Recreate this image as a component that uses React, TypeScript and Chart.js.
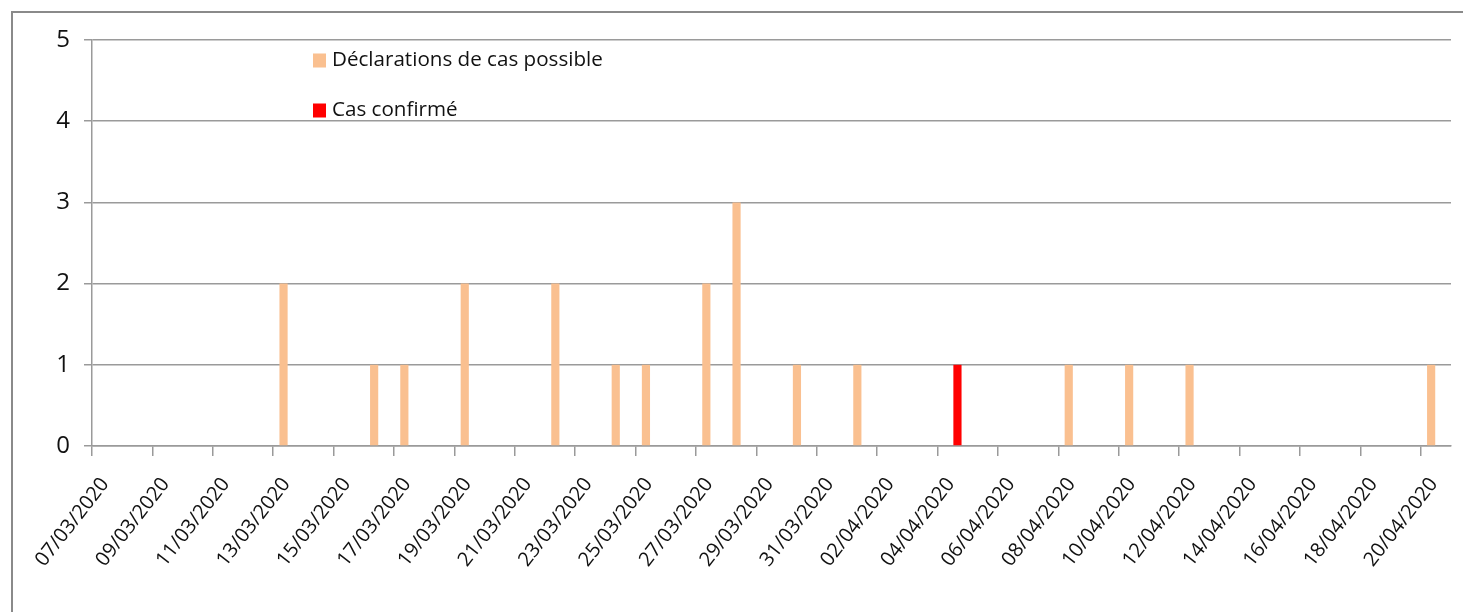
import React, { useEffect, useRef } from 'react';
import { Chart, registerables } from 'chart.js';

Chart.register(...registerables);

const dates: string[] = [
  '07/03/2020', '08/03/2020', '09/03/2020', '10/03/2020', '11/03/2020', '12/03/2020', '13/03/2020',
  '14/03/2020', '15/03/2020', '16/03/2020', '17/03/2020', '18/03/2020', '19/03/2020', '20/03/2020',
  '21/03/2020', '22/03/2020', '23/03/2020', '24/03/2020', '25/03/2020', '26/03/2020', '27/03/2020',
  '28/03/2020', '29/03/2020', '30/03/2020', '31/03/2020', '01/04/2020', '02/04/2020', '03/04/2020',
  '04/04/2020', '05/04/2020', '06/04/2020', '07/04/2020', '08/04/2020', '09/04/2020', '10/04/2020',
  '11/04/2020', '12/04/2020', '13/04/2020', '14/04/2020', '15/04/2020', '16/04/2020', '17/04/2020',
  '18/04/2020', '19/04/2020', '20/04/2020',
];

const casPossible: number[] = [
  0, 0, 0, 0, 0, 0, 2,
  0, 0, 1, 1, 0, 2, 0,
  0, 2, 0, 1, 1, 0, 2,
  3, 0, 1, 0, 1, 0, 0,
  0, 0, 0, 0, 1, 0, 1,
  0, 1, 0, 0, 0, 0, 0,
  0, 0, 1,
];

const casConfirme: number[] = [
  0, 0, 0, 0, 0, 0, 0,
  0, 0, 0, 0, 0, 0, 0,
  0, 0, 0, 0, 0, 0, 0,
  0, 0, 0, 0, 0, 0, 0,
  1, 0, 0, 0, 0, 0, 0,
  0, 0, 0, 0, 0, 0, 0,
  0, 0, 0,
];

const seriesNames: string[] = ['Déclarations de cas possible', 'Cas confirmé'];
const seriesColors: string[] = ['#FAC090', '#FF0000'];

const FONT = '"Open Sans", "Noto Sans", sans-serif';
const GRID = '#9a9a9a';

const legendPlugin = {
  id: 'insideLegend',
  afterDraw(chart: any) {
    const ctx = chart.ctx;
    ctx.save();
    ctx.font = `20.6px ${FONT}`;
    ctx.textBaseline = 'middle';
    ctx.textAlign = 'left';
    const rows = [60.5, 110.5];
    rows.forEach((y, i) => {
      ctx.fillStyle = seriesColors[i];
      ctx.fillRect(313, y - 7, 13, 14);
      ctx.fillStyle = '#111';
      ctx.fillText(seriesNames[i], 332, y);
    });
    ctx.restore();
  },
};

export default function App() {
  const ref = useRef<HTMLCanvasElement | null>(null);

  useEffect(() => {
    document.body.style.margin = '0';
    document.body.style.overflow = 'hidden';
    if (!ref.current) return;
    const chart = new Chart(ref.current, {
      type: 'bar',
      data: {
        labels: dates,
        datasets: [
          {
            label: seriesNames[0],
            data: casPossible,
            backgroundColor: seriesColors[0],
            borderWidth: 0,
            categoryPercentage: 0.63,
            barPercentage: 0.86,
          },
          {
            label: seriesNames[1],
            data: casConfirme,
            backgroundColor: seriesColors[1],
            borderWidth: 0,
            categoryPercentage: 0.63,
            barPercentage: 0.86,
          },
        ],
      },
      options: {
        animation: false,
        responsive: true,
        maintainAspectRatio: false,
        layout: { padding: { top: 40, right: 12, left: 0, bottom: 0 } },
        plugins: {
          legend: { display: false },
          tooltip: { enabled: false },
        },
        scales: {
          x: {
            type: 'category',
            offset: true,
            afterFit: (s: any) => {
              s.height = 166;
              s.paddingLeft = 0;
              s.paddingRight = 0;
            },
            grid: {
              offset: true,
              drawOnChartArea: false,
              drawTicks: true,
              tickLength: 10,
              lineWidth: 1.5,
              tickColor: (c: any) => (c.index % 2 === 0 ? GRID : 'rgba(0,0,0,0)'),
              color: (c: any) => (c.index % 2 === 0 ? GRID : 'rgba(0,0,0,0)'),
            },
            border: { display: true, color: GRID, width: 1.5 },
            ticks: {
              autoSkip: false,
              maxRotation: 52,
              minRotation: 52,
              labelOffset: -2,
              padding: 17,
              color: '#111',
              font: { family: FONT, size: 20 },
              callback: (_v: any, i: number) => (i % 2 === 0 ? dates[i] : ''),
            },
          },
          y: {
            min: 0,
            max: 5,
            afterFit: (s: any) => {
              s.width = 92;
            },
            grid: {
              color: GRID,
              lineWidth: 1.5,
              tickLength: 8,
              tickColor: GRID,
            },
            border: { display: true, color: GRID, width: 1.5 },
            ticks: {
              stepSize: 1,
              padding: 14,
              color: '#111',
              font: { family: FONT, size: 24 },
            },
          },
        },
      },
      plugins: [legendPlugin],
    } as any);
    return () => chart.destroy();
  }, []);

  return (
    <div style={{ position: 'relative', width: 1463, height: 612, background: '#fff' }}>
      <div
        style={{
          position: 'absolute',
          left: 11,
          top: 11,
          width: 1500,
          height: 700,
          borderTop: '2px solid #8a8a8a',
          borderLeft: '2px solid #8a8a8a',
          boxSizing: 'border-box',
        }}
      />
      <canvas ref={ref} style={{ position: 'absolute', left: 0, top: 0 }} />
    </div>
  );
}
